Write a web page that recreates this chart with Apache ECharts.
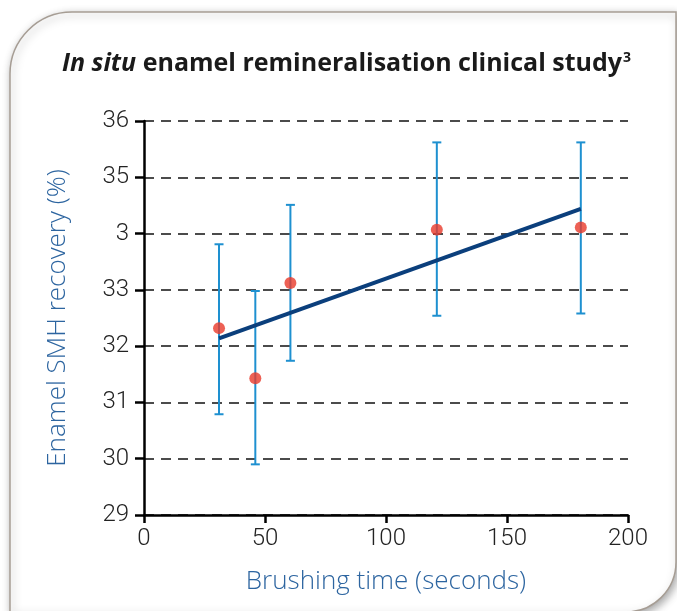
<!DOCTYPE html>
<html>
<head>
<meta charset="utf-8">
<script src="https://cdn.jsdelivr.net/npm/echarts@6/dist/echarts.min.js"></script>
<style>html,body{margin:0;padding:0;background:#fff}#c{width:677px;height:611px}</style>
</head>
<body>
<div id="c"></div>
<script>
// Data
var brushTimes = [31, 46, 60.5, 121, 180.5];
var meanRecovery = [32.32, 31.43, 33.12, 34.07, 34.11];
var errLow = [30.79, 29.90, 31.74, 32.54, 32.58];
var errHigh = [33.81, 32.98, 34.51, 35.62, 35.62];
var trendX = [31, 180.5];
var trendY = [32.14, 34.44];
var yTickLabels = {29: '29', 30: '30', 31: '31', 32: '32', 33: '33', 34: '3', 35: '35', 36: '36'};
var xTickLabels = {0: '0', 50: '50', 100: '100', 150: '150', 200: '200'};

var chart = echarts.init(document.getElementById('c'), null, {renderer: 'canvas'});

var errData = brushTimes.map(function (t, i) { return [t, errLow[i], errHigh[i]]; });
var pointData = brushTimes.map(function (t, i) { return [t, meanRecovery[i]]; });
var trendData = trendX.map(function (t, i) { return [t, trendY[i]]; });

var option = {
  animation: false,
  backgroundColor: '#ffffff',
  graphic: [{
    type: 'rect',
    z: -10,
    shape: {x: 10, y: 12, width: 666, height: 600, r: [62, 0, 50, 0]},
    style: {
      fill: '#ffffff',
      stroke: '#a69d94',
      lineWidth: 1.5,
      shadowBlur: 8,
      shadowOffsetX: 2,
      shadowOffsetY: 3,
      shadowColor: 'rgba(0,0,0,0.35)'
    },
    silent: true
  }],
  title: {
    text: '{i|In situ}{b| enamel remineralisation clinical study}{s|3}',
    left: 57,
    top: 46,
    textStyle: {
      rich: {
        i: {fontFamily: 'Open Sans', fontWeight: 'bold', fontStyle: 'italic', fontSize: 25, color: '#1a1a1a'},
        b: {fontFamily: 'Open Sans', fontWeight: 'bold', fontSize: 25, color: '#1a1a1a'},
        s: {fontFamily: 'Open Sans', fontWeight: 'bold', fontSize: 14, color: '#1a1a1a', verticalAlign: 'top', padding: [0, 0, 10, 1]}
      }
    }
  },
  grid: {left: 144, right: 49, top: 121, bottom: 96, containLabel: false},
  xAxis: {
    type: 'value',
    min: 0, max: 200, interval: 50,
    name: 'Brushing time (seconds)',
    nameLocation: 'middle',
    nameGap: 54,
    nameTextStyle: {fontFamily: 'Open Sans', fontWeight: 300, fontSize: 26, color: '#2d65a0', verticalAlign: 'top'},
    axisLine: {show: true, lineStyle: {color: '#000', width: 2.5}},
    axisTick: {show: true, length: 8, lineStyle: {color: '#000', width: 2.5}},
    axisLabel: {
      fontFamily: 'Roboto', fontWeight: 300, fontSize: 24, color: '#222', margin: 12,
      formatter: function (v) { return xTickLabels[v] !== undefined ? xTickLabels[v] : ''; }
    },
    splitLine: {show: false}
  },
  yAxis: {
    type: 'value',
    min: 29, max: 36, interval: 1,
    name: 'Enamel SMH recovery (%)',
    nameLocation: 'middle',
    nameGap: 73,
    nameRotate: 90,
    nameTextStyle: {fontFamily: 'Open Sans', fontWeight: 300, fontSize: 26, color: '#2d65a0'},
    axisLine: {show: true, lineStyle: {color: '#000', width: 2.5}},
    axisTick: {show: true, length: 9, lineStyle: {color: '#000', width: 2.5}},
    axisLabel: {
      fontFamily: 'Roboto', fontWeight: 300, fontSize: 24, color: '#222', margin: 15,
      formatter: function (v) { return yTickLabels[v] !== undefined ? yTickLabels[v] : ''; }
    },
    splitLine: {show: true, lineStyle: {color: '#111', width: 1.5, type: [10, 7]}}
  },
  series: [
    {
      type: 'custom',
      name: 'error',
      z: 2,
      data: errData,
      renderItem: function (params, api) {
        var x = api.value(0);
        var lo = api.coord([x, api.value(1)]);
        var hi = api.coord([x, api.value(2)]);
        var hw = 4.5;
        var st = {stroke: '#1e90d0', lineWidth: 2};
        return {
          type: 'group',
          children: [
            {type: 'line', shape: {x1: lo[0], y1: lo[1], x2: hi[0], y2: hi[1]}, style: st},
            {type: 'line', shape: {x1: hi[0] - hw, y1: hi[1], x2: hi[0] + hw, y2: hi[1]}, style: st},
            {type: 'line', shape: {x1: lo[0] - hw, y1: lo[1], x2: lo[0] + hw, y2: lo[1]}, style: st}
          ]
        };
      }
    },
    {
      type: 'line',
      name: 'trend',
      z: 3,
      data: trendData,
      symbol: 'none',
      lineStyle: {color: '#0b3f7c', width: 4},
      silent: true
    },
    {
      type: 'scatter',
      name: 'mean',
      z: 4,
      data: pointData,
      symbol: 'circle',
      symbolSize: 12,
      itemStyle: {color: '#e9392a'}
    }
  ]
};
chart.setOption(option);
</script>
</body>
</html>
